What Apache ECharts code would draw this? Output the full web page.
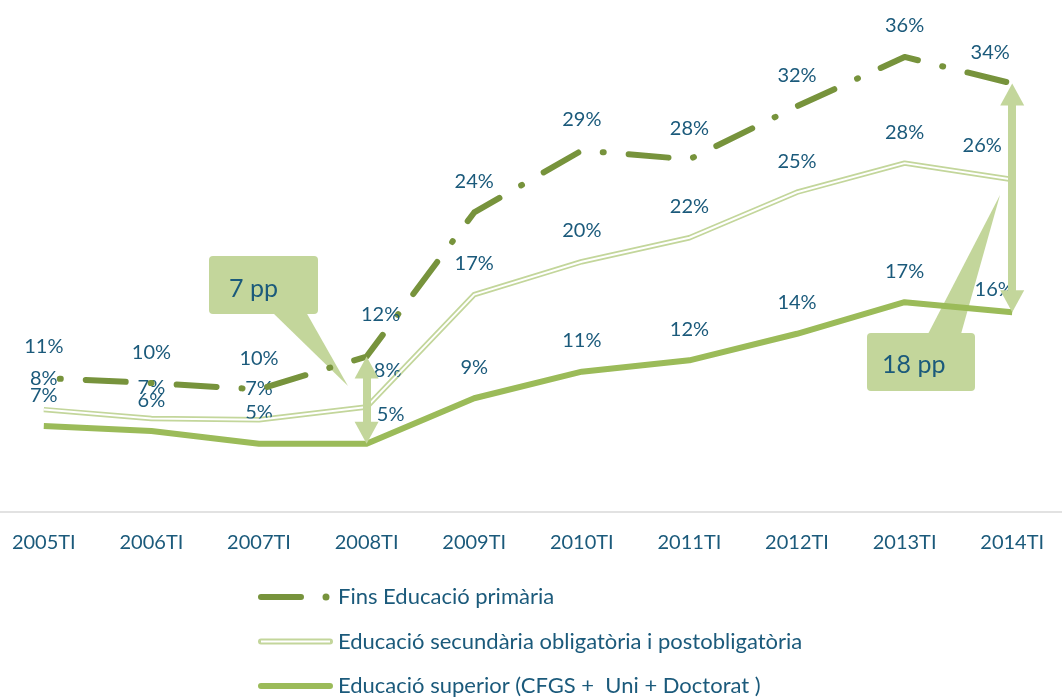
<!DOCTYPE html>
<html>
<head>
<meta charset="utf-8">
<script src="https://cdn.jsdelivr.net/npm/echarts@6/dist/echarts.min.js"></script>
<style>
  html, body { margin: 0; padding: 0; background: #fff; }
  #chart { width: 1062px; height: 698px; }
</style>
</head>
<body>
<div id="chart"></div>
<script>
// data (labels show the rounded value)
var categories = ["2005TI", "2006TI", "2007TI", "2008TI", "2009TI", "2010TI", "2011TI", "2012TI", "2013TI", "2014TI"];
var primaria   = [10.6, 10.2, 9.7, 12.3, 23.7, 28.6, 27.9, 32.1, 36.0, 33.9];
var secundaria = [8.1, 7.4, 7.3, 8.3, 17.2, 19.8, 21.7, 25.3, 27.6, 26.3];
var superior   = [6.8, 6.4, 5.4, 5.4, 9.0, 11.1, 12.0, 14.1, 16.6, 15.8];
var seriesNames = [
  "Fins Educació primària",
  "Educació secundària obligatòria i postobligatòria",
  "Educació superior (CFGS +  Uni + Doctorat )"
];
var gapIdx = [3, 9]; // 2008TI and 2014TI

var textColor = "#1b5a7b";
var font = "Lato";
var cPrim = "#77933c", cSec = "#c3d69b", cSup = "#9bbb59", cNote = "#c3d69b";

// a few labels are nudged sideways in the original
var shiftPrim = { 3: [14, -11], 9: [-22, 0] };
var shiftSec  = { 3: [21, -6], 9: [-30, -3] };
var shiftSup  = { 3: [24, 2], 9: [-18, 8] };

function withShift(values, shift) {
  return values.map(function (v, i) {
    return shift[i] ? { value: v, label: { offset: shift[i] } } : v;
  });
}

var label = {
  show: true,
  position: "top",
  distance: 21,
  color: textColor,
  fontFamily: font,
  fontSize: 20,
  formatter: function (p) { return Math.round(p.value) + "%"; }
};

// arrow heads of the gap arrows: tip sits on the line value
var arrowHeads = [];
gapIdx.forEach(function (i) {
  arrowHeads.push({ coord: [categories[i], primaria[i]], symbolRotate: 0, symbolOffset: [0, 11] });
  arrowHeads.push({ coord: [categories[i], superior[i]], symbolRotate: 180, symbolOffset: [0, -11] });
});

var chart = echarts.init(document.getElementById("chart"));

chart.setOption({
  animation: false,
  backgroundColor: "#fff",
  grid: { left: -10, right: -4, top: 6.4, bottom: 186, containLabel: false, outerBoundsMode: "none" },
  legend: {
    orient: "vertical",
    left: 253,
    top: 586,
    padding: 0,
    itemWidth: 80,
    itemHeight: 10,
    itemGap: 22.5,
    selectedMode: false,
    itemStyle: { borderWidth: 0 },
    textStyle: { color: textColor, fontFamily: font, fontSize: 22, lineHeight: 22 },
    data: [
      { name: seriesNames[0], itemStyle: { color: cPrim, borderWidth: 0 },
        icon: "path://M0,0L0,10M80,0L80,10M8,2H48A3,3,0,0,1,48,8H8A3,3,0,0,1,8,2ZM73,1.5A3.5,3.5,0,1,1,73,8.5A3.5,3.5,0,1,1,73,1.5Z" },
      { name: seriesNames[1], itemStyle: { color: cSec, borderWidth: 0 },
        icon: "path://M0,0L0,10M80,0L80,10M8,2H77A3,3,0,0,1,77,8H8A3,3,0,0,1,8,2ZM8,4.1V5.9H77V4.1Z" },
      { name: seriesNames[2], itemStyle: { color: cSup, borderWidth: 0 },
        icon: "path://M0,0L0,10M80,0L80,10M8,2H77A3,3,0,0,1,77,8H8A3,3,0,0,1,8,2Z" }
    ]
  },
  xAxis: {
    type: "category",
    data: categories,
    boundaryGap: true,
    axisLine: { show: true, lineStyle: { color: "#d9d9d9", width: 1.5 } },
    axisTick: { show: false },
    splitLine: { show: false },
    axisLabel: { margin: 21, color: textColor, fontFamily: font, fontSize: 20 }
  },
  yAxis: { type: "value", min: 0, max: 40, show: false },
  series: [
    {
      name: seriesNames[0],
      type: "line",
      data: withShift(primaria, shiftPrim),
      symbol: "circle",
      symbolSize: 0,
      color: cPrim,
      z: 4,
      lineStyle: { color: cPrim, width: 6, type: [40, 25, 1, 25], dashOffset: 49, cap: "round", join: "round" },
      label: label
    },
    {
      name: seriesNames[1],
      type: "line",
      data: withShift(secundaria, shiftSec),
      symbol: "circle",
      symbolSize: 0,
      color: cSec,
      z: 2,
      lineStyle: { color: cSec, width: 5.5, join: "round" },
      label: label
    },
    {
      // white core that turns the secondary line into a double line
      name: "_core",
      type: "line",
      data: secundaria,
      symbol: "none",
      silent: true,
      z: 3,
      lineStyle: { color: "#fff", width: 2, join: "round" }
    },
    {
      name: seriesNames[2],
      type: "line",
      data: withShift(superior, shiftSup),
      symbol: "circle",
      symbolSize: 0,
      color: cSup,
      z: 2,
      lineStyle: { color: cSup, width: 6, join: "round" },
      label: label,
      markLine: {
        silent: true,
        symbol: ["none", "none"],
        lineStyle: { color: cNote, width: 8, type: "solid", opacity: 1 },
        label: { show: false },
        data: gapIdx.map(function (i) {
          return [
            { coord: [categories[i], primaria[i] - 1] },
            { coord: [categories[i], superior[i] + 1] }
          ];
        })
      },
      markPoint: {
        silent: true,
        symbol: "triangle",
        symbolSize: [24, 22],
        itemStyle: { color: cNote },
        label: { show: false },
        data: arrowHeads
      }
    }
  ],
  graphic: [
    {
      type: "group", z: 10,
      children: [
        { type: "rect", shape: { x: 209, y: 256, width: 109, height: 58, r: 4 }, style: { fill: cNote } },
        { type: "polygon", shape: { points: [[272, 312], [306, 312], [348, 386]] }, style: { fill: cNote } },
        { type: "text", x: 229, y: 289,
          style: { text: Math.round(primaria[3] - superior[3]) + " pp", fill: textColor, fontFamily: font, fontSize: 25, verticalAlign: "middle" } }
      ]
    },
    {
      type: "group", z: 10,
      children: [
        { type: "rect", shape: { x: 867, y: 333, width: 108, height: 58, r: 4 }, style: { fill: cNote } },
        { type: "polygon", shape: { points: [[928, 334], [961, 334], [1000, 195]] }, style: { fill: cNote } },
        { type: "text", x: 882, y: 365,
          style: { text: Math.round(primaria[9] - superior[9]) + " pp", fill: textColor, fontFamily: font, fontSize: 25, verticalAlign: "middle" } }
      ]
    }
  ]
});
</script>
</body>
</html>
